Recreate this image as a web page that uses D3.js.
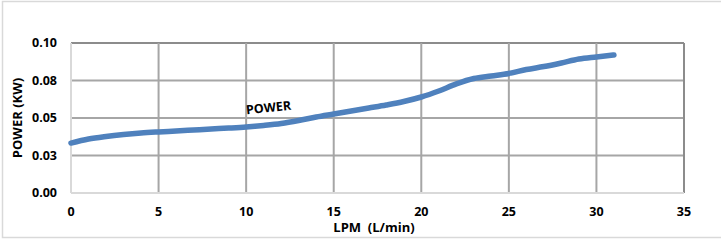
<!DOCTYPE html>
<html lang="en">
<head>
<meta charset="UTF-8">
<title>Power vs LPM</title>
<script src="https://cdn.jsdelivr.net/npm/d3@7"></script>
<style>
  body { margin: 0; background: #fff; }
  text { font-family: "Open Sans", Lato, sans-serif; font-weight: bold; fill: #000; }
</style>
</head>
<body>
<script>
// flow rate (L/min) and power (kW)
const lpm = [0, 1, 2, 3, 4, 5, 6, 7, 8, 9, 10, 11, 12, 13, 14, 15, 16, 17, 18, 19, 20,
             21, 22, 23, 24, 25, 26, 27, 28, 29, 30, 31]
const power = [0.0333, 0.036, 0.0377, 0.039, 0.040, 0.0407, 0.0413, 0.042, 0.0427, 0.0433, 0.044,
               0.045, 0.0463, 0.0483, 0.0507, 0.0527, 0.0547, 0.0567, 0.0587, 0.061, 0.064,
               0.068, 0.0727, 0.0763, 0.078, 0.0797, 0.0823, 0.0843, 0.0867, 0.0893, 0.0907, 0.092]
const xTicks = [0, 5, 10, 15, 20, 25, 30, 35]
const yTicks = [0, 0.025, 0.05, 0.075, 0.1]
const yTickLabels = ['0.00', '0.03', '0.05', '0.08', '0.10']

const width = 721
const height = 243
const margin = { top: 43, right: 37, bottom: 50, left: 71 }

const svg = d3.select('body')
  .append('svg')
  .attr('width', width)
  .attr('height', height)

// outer chart frame
svg.append('path')
  .attr('d', `M${width + 5},1.5 H2.5 V237.5 H${width + 5}`)
  .attr('fill', 'none')
  .attr('stroke', '#d9d9d9')
  .attr('stroke-width', 1.5)

const x = d3.scaleLinear().domain([0, 35]).range([margin.left, width - margin.right])
const y = d3.scaleLinear().domain([0, 0.1]).range([height - margin.bottom, margin.top])

// gridlines
svg.append('g')
  .selectAll('line')
  .data(yTicks.slice(1))
  .join('line')
  .attr('x1', x(0)).attr('x2', x(35))
  .attr('y1', d => y(d)).attr('y2', d => y(d))
  .attr('stroke', (d, i) => i === yTicks.length - 2 ? '#8c8c8c' : '#a6a6a6')
  .attr('stroke-width', 2)

svg.append('g')
  .selectAll('line')
  .data(xTicks.slice(1))
  .join('line')
  .attr('x1', d => x(d)).attr('x2', d => x(d))
  .attr('y1', y(0.1)).attr('y2', y(0))
  .attr('stroke', d => d === 35 ? '#8c8c8c' : '#a6a6a6')
  .attr('stroke-width', 2)

// axis lines
svg.append('line')
  .attr('x1', x(0)).attr('x2', x(35))
  .attr('y1', y(0)).attr('y2', y(0))
  .attr('stroke', '#d9d9d9')
  .attr('stroke-width', 2)
svg.append('line')
  .attr('x1', x(0)).attr('x2', x(0))
  .attr('y1', y(0.1)).attr('y2', y(0))
  .attr('stroke', '#d9d9d9')
  .attr('stroke-width', 2)

// tick labels
svg.append('g')
  .selectAll('text')
  .data(yTicks)
  .join('text')
  .attr('x', 57)
  .attr('y', d => y(d))
  .attr('dy', '0.35em')
  .attr('text-anchor', 'end')
  .style('font-size', '12.5px')
  .text((d, i) => yTickLabels[i])

svg.append('g')
  .selectAll('text')
  .data(xTicks)
  .join('text')
  .attr('x', d => x(d))
  .attr('y', 212)
  .attr('dy', '0.35em')
  .attr('text-anchor', 'middle')
  .style('font-size', '12.5px')
  .text(d => d)

// axis titles
svg.append('text')
  .attr('transform', `translate(22, ${y(0.05)}) rotate(-90)`)
  .attr('text-anchor', 'middle')
  .style('font-size', '13px')
  .text('POWER (KW)')

svg.append('text')
  .attr('x', 374)
  .attr('y', 232)
  .attr('text-anchor', 'middle')
  .style('font-size', '13px')
  .style('white-space', 'pre')
  .text('LPM  (L/min)')

// the series
const line = d3.line()
  .x((d, i) => x(lpm[i]))
  .y(d => y(d))
  .curve(d3.curveMonotoneX)

svg.append('path')
  .datum(power)
  .attr('d', line)
  .attr('fill', 'none')
  .attr('stroke', '#4f81bd')
  .attr('stroke-width', 5.5)
  .attr('stroke-linecap', 'round')
  .attr('stroke-linejoin', 'round')

// series label
svg.append('text')
  .attr('transform', `translate(269, 112) rotate(-6)`)
  .attr('text-anchor', 'middle')
  .style('font-size', '12.5px')
  .text('POWER')
</script>
</body>
</html>
